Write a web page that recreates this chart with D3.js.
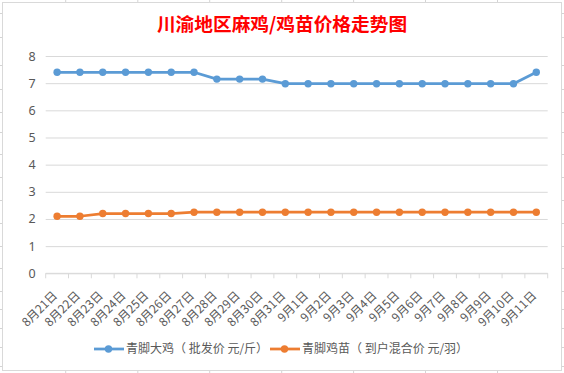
<!DOCTYPE html>
<html>
<head>
<meta charset="utf-8">
<script src="https://cdn.jsdelivr.net/npm/d3@7"></script>
<style>
  body { margin: 0; background: #fff; }
  svg { display: block; font-family: "Noto Sans CJK SC", "Noto Sans", sans-serif; }
</style>
</head>
<body>
<div id="chart"></div>
<script>

// Data
let dates = ["8月21日", "8月22日", "8月23日", "8月24日", "8月25日", "8月26日", "8月27日",
             "8月28日", "8月29日", "8月30日", "8月31日", "9月1日", "9月2日", "9月3日",
             "9月4日", "9月5日", "9月6日", "9月7日", "9月8日", "9月9日", "9月10日", "9月11日"];

let chickenPrice = [7.4, 7.4, 7.4, 7.4, 7.4, 7.4, 7.4,
                    7.15, 7.15, 7.15,
                    6.98, 6.98, 6.98, 6.98, 6.98, 6.98, 6.98, 6.98, 6.98, 6.98, 6.98,
                    7.4];

let chickPrice = [2.1, 2.1, 2.2, 2.2, 2.2, 2.2,
                  2.25, 2.25, 2.25, 2.25, 2.25, 2.25, 2.25, 2.25, 2.25, 2.25, 2.25,
                  2.25, 2.25, 2.25, 2.25, 2.25];

let yTicks = [0, 1, 2, 3, 4, 5, 6, 7, 8];

let seriesNames = ["青脚大鸡（ 批发价 元/斤）", "青脚鸡苗（ 到户混合价 元/羽）"];
let seriesColors = ["#5B9BD5", "#ED7D31"];

let title = "川渝地区麻鸡/鸡苗价格走势图";

const width = 564, height = 373;
const margin = { top: 56, right: 16.3, bottom: 99.7, left: 45.7 };

let svg = d3.select("#chart")
  .append("svg")
  .attr("width", width)
  .attr("height", height);

// spreadsheet cells peeking out around the chart
const sheetGrid = "#D4D4D4";
let rowYs = [13, 37, 65, 89, 112, 132, 154, 177, 200, 223, 246, 268, 291, 309, 328, 347, 366];
let colXs = [65.7, 137.8, 209.7, 281.7, 353.6, 425.5, 497.5];
rowYs.forEach(y => {
  svg.append("line").attr("x1", 0).attr("x2", 3).attr("y1", y + 0.5).attr("y2", y + 0.5).attr("stroke", sheetGrid);
  svg.append("line").attr("x1", 561).attr("x2", 564).attr("y1", y + 0.5).attr("y2", y + 0.5).attr("stroke", sheetGrid);
});
colXs.forEach(x => {
  svg.append("line").attr("x1", x).attr("x2", x).attr("y1", 0).attr("y2", 3).attr("stroke", sheetGrid);
  svg.append("line").attr("x1", x).attr("x2", x).attr("y1", 370).attr("y2", 373).attr("stroke", sheetGrid);
});

// chart frame
svg.append("rect")
  .attr("x", 2.5).attr("y", 2.5)
  .attr("width", 559).attr("height", 368)
  .attr("fill", "#fff")
  .attr("stroke", "#D9D9D9");

// Title
svg.append("text")
  .attr("x", 282)
  .attr("y", 31)
  .attr("text-anchor", "middle")
  .attr("fill", "#FF0000")
  .attr("font-size", "18.7px")
  .attr("font-weight", "bold")
  .text(title);

// Scales
let xScale = d3.scaleBand()
  .domain(dates)
  .range([margin.left, width - margin.right]);

let yScale = d3.scaleLinear()
  .domain([0, 8])
  .range([height - margin.bottom, margin.top]);

// y axis with gridlines
let yAxis = svg.append("g")
  .attr("transform", `translate(${margin.left}, 0)`)
  .call(d3.axisLeft(yScale).tickValues(yTicks).tickSize(-(width - margin.left - margin.right)).tickPadding(10));
yAxis.select(".domain").remove();
yAxis.selectAll(".tick line").attr("stroke", "#D9D9D9");
yAxis.selectAll(".tick text")
  .attr("fill", "#595959")
  .attr("font-size", "12.5px")
  .attr("font-family", "'Noto Sans', sans-serif");

// x axis
let xAxisY = height - margin.bottom;
svg.append("line")
  .attr("x1", margin.left).attr("x2", width - margin.right)
  .attr("y1", xAxisY).attr("y2", xAxisY)
  .attr("stroke", "#D9D9D9");

let bounds = dates.map(d => xScale(d)).concat([width - margin.right]);
svg.selectAll(".xtick")
  .data(bounds)
  .enter()
  .append("line")
    .attr("class", "xtick")
    .attr("x1", d => d).attr("x2", d => d)
    .attr("y1", xAxisY).attr("y2", xAxisY + 5)
    .attr("stroke", "#D9D9D9");

svg.selectAll(".xlabel")
  .data(dates)
  .enter()
  .append("text")
    .attr("class", "xlabel")
    .attr("text-anchor", "end")
    .attr("dy", "0.35em")
    .attr("fill", "#595959")
    .attr("font-size", "12px")
    .attr("transform", d => `translate(${xScale(d) + xScale.bandwidth() / 2 - 2}, ${xAxisY + 20}) rotate(-45)`)
    .text(d => d);

// Lines and points
let allSeries = [chickenPrice, chickPrice];
let line = d3.line()
  .x((d, i) => xScale(dates[i]) + xScale.bandwidth() / 2)
  .y(d => yScale(d));

allSeries.forEach((values, k) => {
  svg.append("path")
    .datum(values)
    .attr("fill", "none")
    .attr("stroke", seriesColors[k])
    .attr("stroke-width", 2.75)
    .attr("stroke-linejoin", "round")
    .attr("d", line);

  svg.selectAll(".pt" + k)
    .data(values)
    .enter()
    .append("circle")
      .attr("class", "pt" + k)
      .attr("cx", (d, i) => xScale(dates[i]) + xScale.bandwidth() / 2)
      .attr("cy", d => yScale(d))
      .attr("r", 3.7)
      .attr("fill", seriesColors[k]);
});

// Legend
let legendY = 349;
let legendX = [94, 270];
seriesNames.forEach((name, k) => {
  let g = svg.append("g").attr("transform", `translate(${legendX[k]}, ${legendY})`);
  g.append("line").attr("x1", 0).attr("x2", 30).attr("y1", 0).attr("y2", 0)
    .attr("stroke", seriesColors[k]).attr("stroke-width", 2.75);
  g.append("circle").attr("cx", 14.5).attr("cy", 0).attr("r", 3.7).attr("fill", seriesColors[k]);
  g.append("text")
    .attr("x", 32)
    .attr("dy", "0.35em")
    .attr("fill", "#595959")
    .attr("font-size", "12px")
    .text(name);
});

</script>
</body>
</html>
